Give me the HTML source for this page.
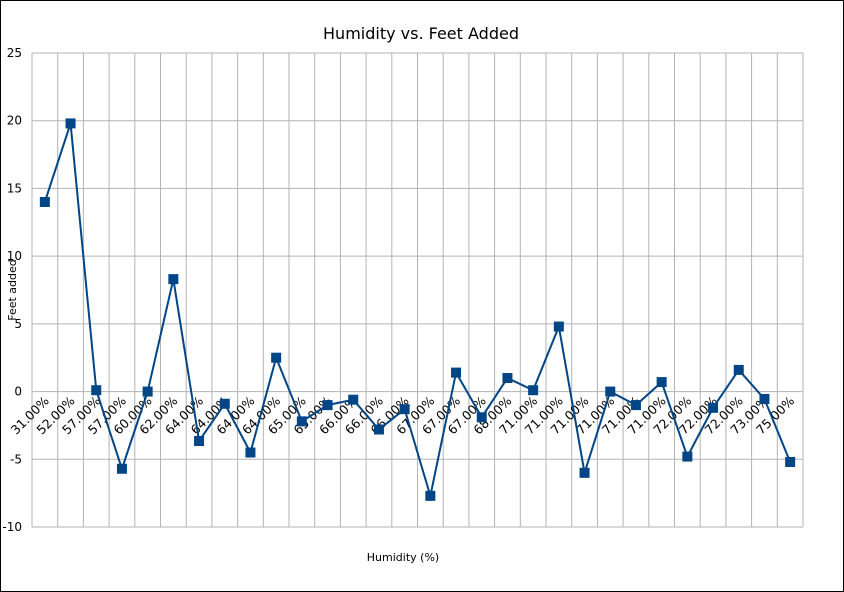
<!DOCTYPE html>
<html><head><meta charset="utf-8"><style>
html,body{margin:0;padding:0;background:#fff;}
svg{display:block;font-family:"DejaVu Sans","Liberation Sans",sans-serif;}
</style></head><body>
<svg id="chart" width="844" height="592">
<rect x="0.5" y="0.5" width="843" height="591" fill="#fff" stroke="#000" stroke-width="1"/>
<text x="421" y="39" text-anchor="middle" font-size="16" fill="#000">Humidity vs. Feet Added</text>
<text x="403" y="561" text-anchor="middle" font-size="11" fill="#000">Humidity (%)</text>
<text transform="translate(16,290) rotate(-90)" text-anchor="middle" font-size="11" fill="#000">Feet added</text>
<g id="grid"></g><g id="xlabels"></g><g id="series"></g>
</svg>
<script>
const categories=["31.00%","52.00%","57.00%","57.00%","60.00%","62.00%","64.00%","64.00%","64.00%","64.00%","65.00%","65.00%","66.00%","66.00%","66.00%","67.00%","67.00%","67.00%","68.00%","71.00%","71.00%","71.00%","71.00%","71.00%","71.00%","72.00%","72.00%","72.00%","73.00%","75.00%"];
const feetAdded=[14.0,19.8,0.1,-5.7,0,8.3,-3.65,-0.9,-4.5,2.5,-2.2,-1.0,-0.6,-2.8,-1.3,-7.7,1.4,-1.9,1.0,0.1,4.8,-6.0,0,-1.0,0.7,-4.8,-1.2,1.6,-0.55,-5.2];
const yTicks=[-10,-5,0,5,10,15,20,25];
const NS="http://www.w3.org/2000/svg";
const L=32,R=803,T=53,B=527,yMin=-10,yMax=25;
const step=(R-L)/categories.length;
const xs=i=>L+step*(i+0.5);
const ys=v=>T+(yMax-v)/(yMax-yMin)*(B-T);
function mk(tag,attrs,parent){const e=document.createElementNS(NS,tag);for(const k in attrs)e.setAttribute(k,attrs[k]);parent.appendChild(e);return e;}
const grid=document.getElementById('grid'),xl=document.getElementById('xlabels'),ser=document.getElementById('series');
yTicks.forEach(t=>{
 const l=mk('line',{x1:L,x2:R,y1:ys(t),y2:ys(t),stroke:'#b3b3b3','stroke-width':1},grid);
 
 
 const tx=mk('text',{x:L-10,y:ys(t)+4,'text-anchor':'end','font-size':12,fill:'#000'},grid);
 tx.textContent=t;
 
 
});
for(let i=0;i<=categories.length;i++){
 const x=L+step*i;
 const l=mk('line',{x1:x,x2:x,y1:T,y2:B,stroke:'#b3b3b3','stroke-width':1},grid);
 
 
}
categories.forEach((c,i)=>{
 const x=xs(i)+5,y=ys(0)+10;
 const tx=mk('text',{x:x,y:y,'text-anchor':'end','font-size':12.5,fill:'#000',transform:`rotate(-45 ${x} ${y})`},xl);
 tx.textContent=c;
 
 
});
const pts=feetAdded.map((v,i)=>xs(i)+','+ys(v)).join(' ');
const pl=mk('polyline',{points:pts,fill:'none',stroke:'#004586','stroke-width':2},ser);


feetAdded.forEach((v,i)=>{
 const r=mk('rect',{x:xs(i)-5,y:ys(v)-5,width:10,height:10,fill:'#004586'},ser);
 
 
});
</script>
</body></html>
